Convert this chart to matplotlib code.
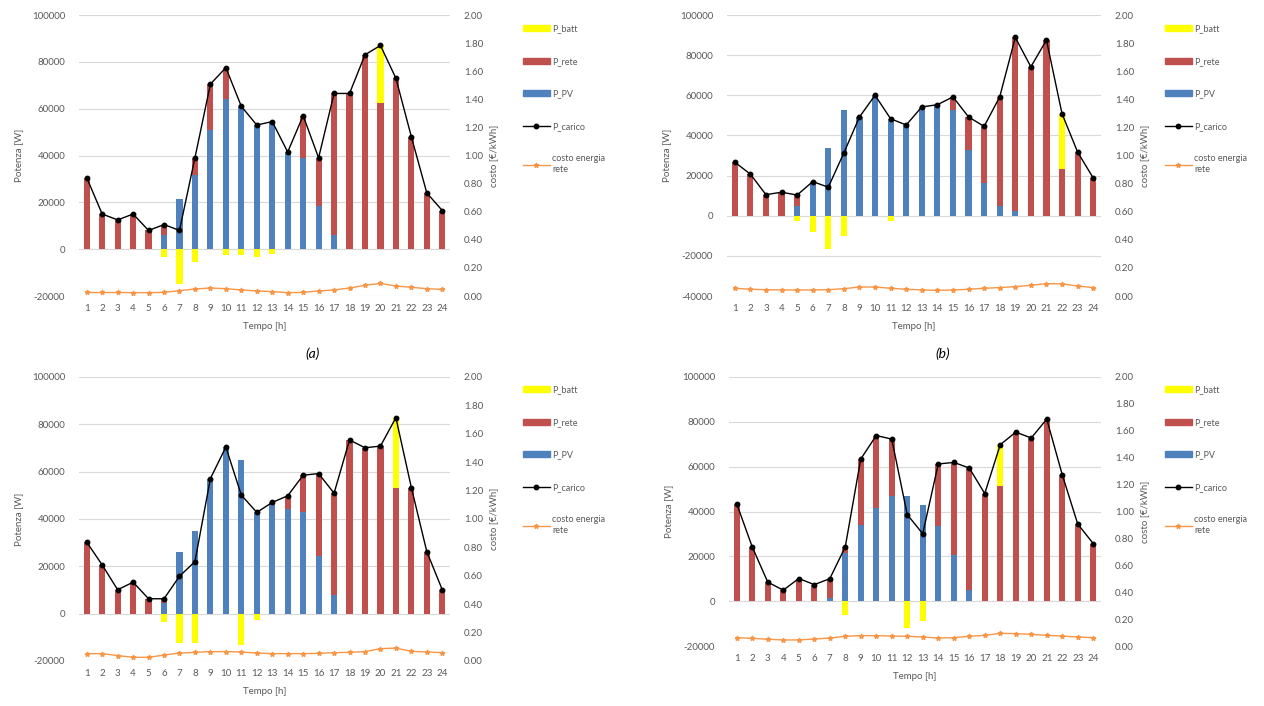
import numpy as np
import matplotlib
matplotlib.use("Agg")
import matplotlib.pyplot as plt
from matplotlib.patches import Patch
from matplotlib.lines import Line2D

plt.rcParams['font.family'] = ['Lato', 'DejaVu Sans']

hours = list(range(1, 25))

# ---------------- panel (a)
carico_a = [30500, 15000, 12500, 15000, 8000, 10500, 8000, 39000, 70500, 77500, 61000, 53000,
            54500, 41500, 57000, 39000, 66500, 66500, 83000, 87000, 73000, 48000, 24000, 16500]
pv_a = [0, 0, 0, 0, 0, 6000, 21500, 31500, 51000, 64000, 61000, 53000,
        54500, 41500, 39000, 18500, 6000, 0, 0, 0, 0, 0, 0, 0]
rete_a = [30500, 15000, 12500, 15000, 8000, 4500, 0, 7500, 19500, 13500, 0, 0,
          0, 0, 18000, 20500, 60500, 66500, 83000, 62500, 73000, 48000, 24000, 16500]
batt_a = [0, 0, 0, 0, 0, -3500, -15000, -5500, 0, -2500, -2500, -3500,
          -2000, 0, 0, 0, 0, 0, 0, 24500, 0, 0, 0, 0]
costo_a = [0.025, 0.025, 0.025, 0.024, 0.024, 0.026, 0.038, 0.050, 0.057, 0.052, 0.043, 0.036,
           0.031, 0.024, 0.026, 0.036, 0.043, 0.057, 0.076, 0.090, 0.071, 0.062, 0.052, 0.047]

# ---------------- panel (b)
carico_b = [26700, 20700, 10500, 11700, 10300, 17000, 14200, 31300, 49200, 60000, 48300, 45200,
            54200, 55300, 59200, 49200, 44500, 59200, 88800, 74200, 87500, 50800, 31700, 18800]
pv_b = [0, 0, 0, 0, 5000, 17000, 33700, 52500, 49200, 60000, 48300, 45200,
        54200, 55300, 52500, 32500, 16200, 5000, 2500, 0, 0, 0, 0, 0]
rete_b = [26700, 20700, 10500, 11700, 5300, 0, 0, 0, 0, 0, 0, 0,
          0, 0, 6700, 16700, 28300, 54200, 86300, 74200, 87500, 23300, 31700, 18800]
batt_b = [0, 0, 0, 0, -2500, -8300, -16700, -10000, 0, 0, -2500, 0,
          0, 0, 0, 0, 0, 0, 0, 0, 0, 27500, 0, 0]
costo_b = [0.055, 0.048, 0.045, 0.043, 0.043, 0.043, 0.045, 0.052, 0.064, 0.064, 0.055, 0.048,
           0.043, 0.040, 0.043, 0.048, 0.055, 0.060, 0.067, 0.076, 0.088, 0.086, 0.071, 0.060]

# ---------------- panel (c)
carico_c = [30200, 20600, 10100, 13300, 6300, 6300, 15800, 22000, 57100, 70400, 50100, 42800,
            47000, 49800, 58500, 59200, 50900, 73400, 70100, 70800, 82800, 53300, 26200, 10100]
pv_c = [0, 0, 0, 0, 0, 4500, 26000, 35000, 57100, 70400, 65000, 42800,
        47000, 44200, 43000, 24500, 7700, 0, 0, 0, 0, 0, 0, 0]
rete_c = [30200, 20600, 10100, 13300, 6300, 1800, 0, 0, 0, 0, 0, 0,
          0, 5600, 15500, 34700, 43200, 73400, 70100, 70800, 52900, 53300, 26200, 10100]
batt_c = [0, 0, 0, 0, 0, -3500, -12200, -12200, 0, 0, -13300, -2500,
          0, 0, 0, 0, 0, 0, 0, 0, 29900, 0, 0, 0]
costo_c = [0.052, 0.052, 0.038, 0.026, 0.026, 0.042, 0.056, 0.061, 0.066, 0.066, 0.063, 0.056,
           0.052, 0.052, 0.052, 0.054, 0.059, 0.061, 0.066, 0.087, 0.091, 0.068, 0.063, 0.059]

# ---------------- panel (d)
carico_d = [43400, 24200, 8500, 4900, 10100, 7400, 10000, 24200, 63400, 73900, 72300, 38600,
            30100, 61200, 61900, 59400, 48000, 69800, 75400, 72800, 81200, 56400, 34400, 25700]
pv_d = [0, 0, 0, 0, 0, 0, 1500, 21500, 34200, 41600, 46800, 47100,
        43000, 33400, 20800, 4900, 0, 0, 0, 0, 0, 0, 0, 0]
rete_d = [43400, 24200, 8500, 4900, 10100, 7400, 8500, 2700, 29200, 32300, 25500, 0,
          0, 27800, 41100, 54500, 48000, 51500, 75400, 72800, 81200, 56400, 34400, 25700]
batt_d = [0, 0, 0, 0, 0, 0, 0, -6000, 0, 0, 0, -11900,
          -8900, 0, 0, 0, 0, 18300, 0, 0, 0, 0, 0, 0]
costo_d = [0.062, 0.057, 0.050, 0.045, 0.045, 0.052, 0.059, 0.072, 0.077, 0.077, 0.074, 0.072,
           0.067, 0.059, 0.062, 0.072, 0.079, 0.094, 0.092, 0.087, 0.079, 0.074, 0.067, 0.062]

legend_labels = ['P_batt', 'P_rete', 'P_PV', 'P_carico', 'costo energia\nrete']
captions = ['(a)', '(b)']

C_Y, C_R, C_B, C_O = '#FFFF00', '#C0504D', '#4F81BD', '#F79646'
GRID = '#D9D9D9'
TXT = '#595959'

W, H = 1264, 706
fig = plt.figure(figsize=(W / 100, H / 100), dpi=100)
fig.patch.set_facecolor('white')


def panel(box, ylim, carico, pv, rete, batt, costo, leg_xy):
    x0, y0, x1, y1 = box
    ax = fig.add_axes([x0 / W, 1 - y1 / H, (x1 - x0) / W, (y1 - y0) / H])
    h = np.array(hours)
    pv = np.array(pv, float)
    rete = np.array(rete, float)
    batt = np.array(batt, float)
    wdt = 0.4
    ax.bar(h, pv, width=wdt, color=C_B, zorder=2)
    ax.bar(h, rete, bottom=pv, width=wdt, color=C_R, zorder=2)
    ax.bar(h, batt, bottom=np.where(batt > 0, pv + rete, 0), width=wdt, color=C_Y, zorder=2)
    ax.plot(h, carico, color='black', marker='o', ms=3.2, lw=1.0, zorder=4)
    ax.set_xlim(0.5, 24.5)
    ax.set_ylim(*ylim)
    ticks = np.arange(ylim[0], ylim[1] + 1, 20000)
    ax.set_yticks(ticks)
    ax.set_yticklabels([str(int(v)) for v in ticks])
    ax.yaxis.grid(True, color=GRID, lw=0.8, zorder=0)
    ax.set_axisbelow(True)
    ax.set_xticks(h)
    ax.set_xticklabels([str(v) for v in hours])
    for s in ax.spines.values():
        s.set_visible(False)
    ax.tick_params(length=0, labelsize=7, colors=TXT, pad=6)
    ax.tick_params(axis='y', pad=10)
    ax.set_xlabel('Tempo [h]', fontsize=7, color=TXT, labelpad=6)
    ax.set_ylabel('Potenza [W]', fontsize=7, color=TXT, labelpad=6)

    ax2 = ax.twinx()
    ax2.plot(h, costo, color=C_O, marker='*', ms=3.5, lw=1.0, zorder=3)
    ax2.set_ylim(0, 2)
    rt = np.arange(0, 2.01, 0.2)
    ax2.set_yticks(rt)
    ax2.set_yticklabels(['%.2f' % v for v in rt])
    for s in ax2.spines.values():
        s.set_visible(False)
    ax2.tick_params(length=0, labelsize=7, colors=TXT, pad=10)
    ax2.set_ylabel('costo [€/kWh]', fontsize=7, color=TXT, rotation=90, labelpad=4)

    handles = [Patch(color=C_Y), Patch(color=C_R), Patch(color=C_B),
               Line2D([], [], color='black', marker='o', ms=3.2, lw=1.0),
               Line2D([], [], color=C_O, marker='*', ms=3.5, lw=1.0)]
    fig.legend(handles, legend_labels, loc='upper left',
               bbox_to_anchor=(leg_xy[0] / W, 1 - leg_xy[1] / H),
               bbox_transform=fig.transFigure, frameon=False, fontsize=6.5,
               labelspacing=2.6, handlelength=3.0, handleheight=0.6,
               handletextpad=0.3, borderpad=0, labelcolor=TXT)
    return ax


panel((79, 15, 450, 296), (-20000, 100000), carico_a, pv_a, rete_a, batt_a, costo_a, (518, 20))
panel((727, 15, 1101, 296), (-40000, 100000), carico_b, pv_b, rete_b, batt_b, costo_b, (1160, 20))
panel((79, 377, 450, 661), (-20000, 100000), carico_c, pv_c, rete_c, batt_c, costo_c, (518, 381))
panel((729, 377, 1101, 646), (-20000, 100000), carico_d, pv_d, rete_d, batt_d, costo_d, (1160, 381))

fig.text(313 / W, 1 - 354 / H, captions[0], style='italic', ha='center', va='center', fontsize=10)
fig.text(943 / W, 1 - 354 / H, captions[1], style='italic', ha='center', va='center', fontsize=10)

fig.savefig('out.png', dpi=100, facecolor='white')
